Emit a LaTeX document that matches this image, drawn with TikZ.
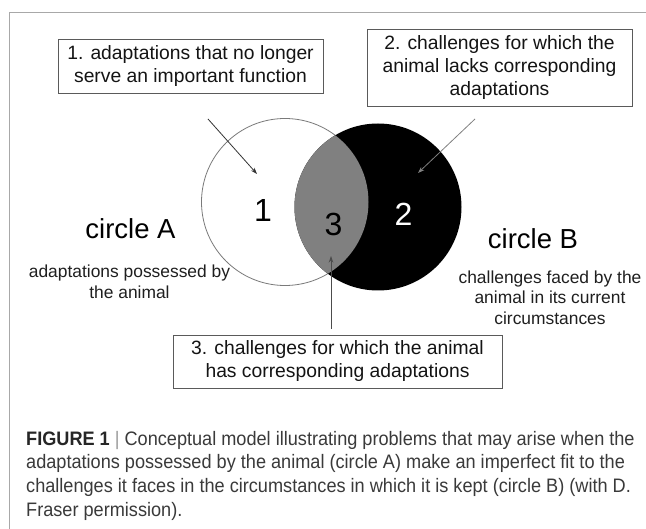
\documentclass[tikz,border=0pt]{standalone}
\usepackage{fontspec}
\setmainfont{Liberation Sans}
\newfontfamily\capfont[FakeStretch=0.93]{Liberation Sans}
\usetikzlibrary{arrows.meta}
\definecolor{framegray}{HTML}{A8A8A8}
\definecolor{boxgray}{HTML}{5A5A5A}
\definecolor{lensgray}{HTML}{808080}
\definecolor{outlinegray}{HTML}{7A7A7A}
\definecolor{captext}{HTML}{3A3A3A}
\definecolor{bartext}{HTML}{9A9A9A}
\tikzset{
  labelbox/.style={draw=boxgray, line width=0.9pt, fill=white, align=center,
    inner sep=0pt, font=\fontsize{19.3}{23}\selectfont, text=black!92},
  pointer/.style={line width=0.8pt, -{Stealth[length=6.5pt,width=4.5pt]}},
  bigdigit/.style={inner sep=0pt, font=\fontsize{32}{32}\selectfont},
  circlelabel/.style={inner sep=0pt, anchor=base, font=\fontsize{27.5}{27.5}\selectfont},
  smalltext/.style={inner sep=0pt, align=center, font=\fontsize{17.4}{20.5}\selectfont, text=black!88},
}
\begin{document}
\begin{tikzpicture}[x=1pt,y=-1pt]
\useasboundingbox (0,0) rectangle (646,529);
\fill[white] (0,0) rectangle (646,529);
% frame
\draw[framegray, line width=1.6pt] (9.5,529) -- (9.5,12.5) -- (646,12.5);

% circles
\node[circle, draw=outlinegray, line width=0.8pt, fill=white, minimum size=167pt, inner sep=0pt] (A) at (285,202) {};
\node[circle, fill=black, minimum size=167pt, inner sep=0pt] (B) at (378,207) {};
\begin{scope}
  \clip (B.center) circle (83.5pt);
  \fill[lensgray] (A.center) circle (83.5pt);
\end{scope}

% digits
\node[bigdigit] (n1) at (263,210) {1};
\node[bigdigit] (n3) at (333.5,224) {3};
\node[bigdigit, text=white] (n2) at (403.5,214.5) {2};

% boxes
\node[labelbox, minimum width=265pt, minimum height=54pt] (b1) at (190.5,66)
  {1. adaptations that no longer\\serve an important function};
\node[labelbox, minimum width=265pt, minimum height=77pt] (b2) at (499.5,67.5)
  {2. challenges for which the\\animal lacks corresponding\\adaptations};
\node[labelbox, minimum width=329pt, minimum height=53pt] (b3) at (337.5,361.5)
  {3. challenges for which the animal\\has corresponding adaptations};

% side labels
\node[circlelabel] (ca) at (130.5,239) {circle A};
\node[circlelabel] (cb) at (533,249) {circle B};
\node[smalltext] (ta) at (129.5,282) {adaptations possessed by\\the animal};
\node[smalltext] (tb) at (550,297.5) {challenges faced by the\\animal in its current\\circumstances};

% arrows
\coordinate (a1s) at (208,119);
\coordinate (a1e) at (257,174);
\coordinate (a2s) at (475,119);
\coordinate (a2e) at (418,173);
\coordinate (a3s) at (331,329);
\coordinate (a3e) at (331,256);
\draw[pointer, black!80] (a1s) -- (a1e);
\draw[pointer, black!50] (a2s) -- (a2e);
\draw[pointer, black!70] (a3s) -- (a3e);

% caption
\node[anchor=north west, inner sep=0pt, align=left, text=captext,
  font=\capfont\fontsize{19.5}{23.6}\selectfont] (cap) at (26,431)
  {{\color{black!85}\textbf{FIGURE 1}} {\color{bartext}|} Conceptual model illustrating problems that may arise when the\\
   adaptations possessed by the animal (circle A) make an imperfect fit to the\\
   challenges it faces in the circumstances in which it is kept (circle B) (with D.\\
   Fraser permission).};
\end{tikzpicture}
\end{document}
